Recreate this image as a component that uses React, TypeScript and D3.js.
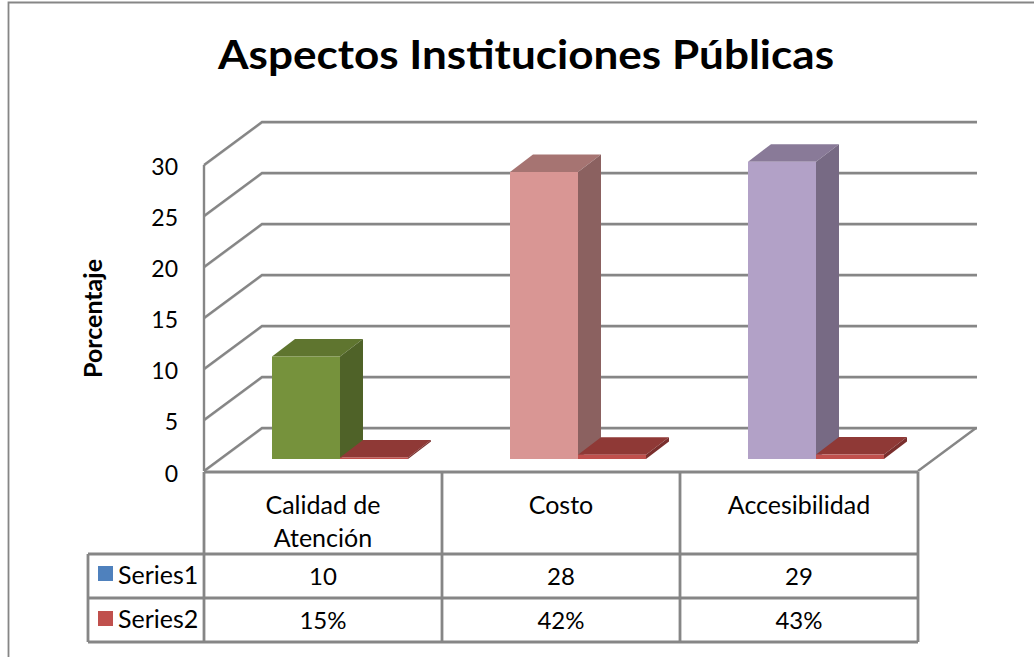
import React from "react";
import * as d3 from "d3";

const title = "Aspectos Instituciones Públicas";
const yTitle = "Porcentaje";
const categories = ["Calidad de Atención", "Costo", "Accesibilidad"];
const categoryLines = [["Calidad de", "Atención"], ["Costo"], ["Accesibilidad"]];
const seriesNames = ["Series1", "Series2"];
const series1 = [10, 28, 29];
const series2Percent = [15, 42, 43];
const yTicks = [0, 5, 10, 15, 20, 25, 30];
const keyColors = ["#4f81bd", "#c0504d"];
const barFaces = [
  { front: "#76923c", top: "#5f752f", side: "#4f6228" },
  { front: "#d99694", top: "#a67472", side: "#8b6160" },
  { front: "#b2a1c7", top: "#897a98", side: "#776a84" },
];
const redFace = { front: "#c0504d", top: "#8f3936", side: "#7a2f2d" };

const GRID = "#868686";
const FONT = "Lato, Carlito, Calibri, sans-serif";
const BX = 23;
const BY = 17.5;

const x = d3.scaleBand<string>().domain(categories).range([204, 918]);
const slot = d3.scaleBand<string>().domain(seriesNames).range([68, 204]);
const yFront = d3.scaleLinear().domain([0, 30]).range([471, 165]);
const yBack = d3.scaleLinear().domain([0, 30]).range([428, 122]);
const yBar = d3.scaleLinear().domain([0, 30]).range([459, 151.5]);
const yLabel = d3.scaleLinear().domain([0, 30]).range([481.5, 174.5]);

const rowTops = [472, 554, 598, 642];

function Box({ x0, w, v, face }: { x0: number; w: number; v: number; face: { front: string; top: string; side: string } }) {
  const yb = yBar(0);
  const yt = yBar(v);
  const x1 = x0 + w;
  const pts = (a: number[][]) => a.map((p) => p.join(",")).join(" ");
  return (
    <g>
      <polygon points={pts([[x0, yt], [x1, yt], [x1 + BX, yt - BY], [x0 + BX, yt - BY]])} fill={face.top} />
      <polygon points={pts([[x1, yt], [x1 + BX, yt - BY], [x1 + BX, yb - BY], [x1, yb]])} fill={face.side} />
      <rect x={x0} y={yt} width={w} height={yb - yt} fill={face.front} />
    </g>
  );
}

export default function App() {
  const bw = slot.bandwidth();
  const gridPath = d3.line();
  return (
    <svg width={1034} height={657} style={{ position: "absolute", left: 0, top: 0, display: "block", background: "#fff" }} fontFamily={FONT}>
      <path d="M8.5,657V2.5H1034" fill="none" stroke={GRID} strokeWidth={1.8} />
      <text x={526} y={69} textAnchor="middle" fontSize={41} fontWeight={700} fill="#000" textLength={616} lengthAdjust="spacingAndGlyphs">{title}</text>

      {yTicks.map((t) => (
        <g key={t} fill="none">
          <path d={gridPath([[204, yFront(t) + 1.2], [262, yBack(t) + 1.2], [977, yBack(t) + 1.2]]) || ""} stroke="#d9d9d9" strokeWidth={1.5} />
          <path d={gridPath([[204, yFront(t)], [262, yBack(t)], [977, yBack(t)]]) || ""} stroke={GRID} strokeWidth={2.4} />
        </g>
      ))}
      <path d={`M204,${yFront(30)}V${yFront(0)}`} stroke={GRID} strokeWidth={2.4} fill="none" />
      <path d={`M918,${yFront(0)}L976,${yBack(0)}`} stroke={GRID} strokeWidth={2.4} fill="none" />

      {categories.map((c, i) => (
        <g key={c}>
          <Box x0={x(c)! + slot("Series1")!} w={bw} v={series1[i]} face={barFaces[i]} />
          <Box x0={x(c)! + slot("Series2")!} w={bw} v={series2Percent[i] / 100} face={redFace} />
        </g>
      ))}

      {yTicks.map((t) => (
        <text key={t} x={178} y={yLabel(t)} textAnchor="end" fontSize={23} fill="#000">{t}</text>
      ))}
      <text transform="translate(101.5,318.5) rotate(-90)" textAnchor="middle" fontSize={25} fontWeight={700} fill="#000">{yTitle}</text>

      {/* data table */}
      <g stroke={GRID} strokeWidth={2.8} fill="none">
        <path d={`M204,${rowTops[0]}H918`} />
        <path d={`M88,${rowTops[1]}H918`} />
        <path d={`M88,${rowTops[2]}H918`} />
        <path d={`M88,${rowTops[3]}H918`} />
        <path d={`M88,${rowTops[1]}V${rowTops[3]}`} />
        {x.domain().map((c) => <path key={c} d={`M${x(c)},${rowTops[0]}V${rowTops[3]}`} />)}
        <path d={`M918,${rowTops[0]}V${rowTops[3]}`} />
      </g>
      {categories.map((c, i) => {
        const cx = x(c)! + x.bandwidth() / 2;
        const lines = categoryLines[i];
        return (
          <g key={c} textAnchor="middle" fill="#000">
            {lines.map((l, j) => <text key={l} x={cx} y={514 + j * 33} fontSize={25}>{l}</text>)}
            <text x={cx} y={584.5} fontSize={24}>{series1[i]}</text>
            <text x={cx} y={628.5} fontSize={24}>{series2Percent[i]}%</text>
          </g>
        );
      })}
      {seriesNames.map((s, i) => (
        <g key={s}>
          <rect x={98} y={566 + i * 45} width={15} height={15} fill={keyColors[i]} />
          <text x={118} y={583.5 + i * 44.5} fontSize={25} fill="#000">{s}</text>
        </g>
      ))}
    </svg>
  );
}
